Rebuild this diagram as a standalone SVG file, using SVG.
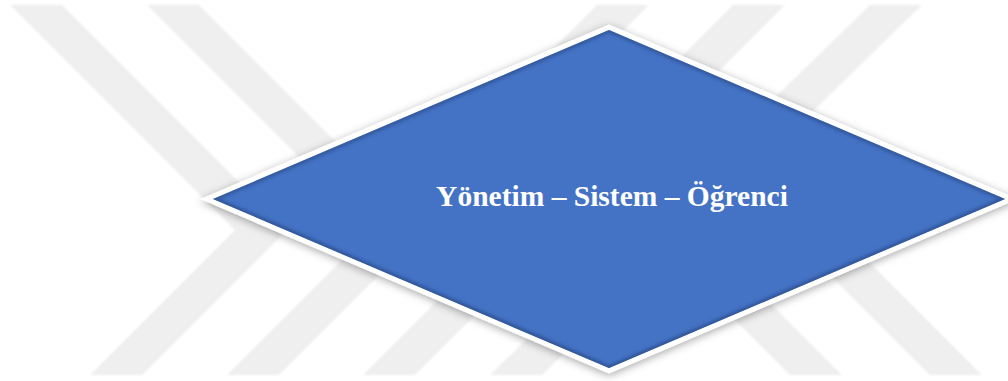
<svg xmlns="http://www.w3.org/2000/svg" width="1008" height="381" viewBox="0 0 1008 381">
  <style>
    .band { fill: #efefef; }
    .label { font-family: "Liberation Serif", "Times New Roman", serif; font-weight: bold; font-size: 29.5px; fill: #ffffff; }
  </style>
  <defs>
    <filter id="soft" x="-5%" y="-5%" width="110%" height="110%">
      <feGaussianBlur stdDeviation="0.8"/>
    </filter>
    <filter id="shadow" x="-10%" y="-20%" width="120%" height="140%">
      <feDropShadow dx="0" dy="2" stdDeviation="4" flood-color="#000000" flood-opacity="0.35"/>
    </filter>
    <filter id="bevelBlur" x="-5%" y="-5%" width="110%" height="110%">
      <feGaussianBlur stdDeviation="1.6"/>
    </filter>
    <clipPath id="diamondClip">
      <polygon points="213,199 609,30 1005,199 609,368"/>
    </clipPath>
  </defs>
  <rect width="1008" height="381" fill="#ffffff"/>
  <g id="watermark" filter="url(#soft)">
    <polygon class="band" points="10,5 62,5 287,230 142,375 90,375 235,230"/>
    <polygon class="band" points="147,5 199,5 424,230 372,230"/>
    <polygon class="band" points="227,375 279,375 649,5 597,5"/>
    <polygon class="band" points="363,375 415,375 785,5 733,5"/>
    <polygon class="band" points="490,375 542,375 922,5 870,5"/>
    <polygon class="band" points="790,375 842,375 712,245 660,245"/>
    <polygon class="band" points="930,375 982,375 847,240 795,240"/>
  </g>
  <g id="node-decision">
    <polygon points="213,199 609,30 1005,199 609,368" fill="#ffffff" stroke="#ffffff" stroke-width="10" stroke-linejoin="miter" filter="url(#shadow)"/>
    <polygon points="213,199 609,30 1005,199 609,368" fill="#4472c4"/>
    <g clip-path="url(#diamondClip)">
      <polygon points="213,199 609,30 1005,199 609,368" fill="none" stroke="#2c5192" stroke-width="6" stroke-opacity="0.7" filter="url(#bevelBlur)"/>
      <polyline points="209,201 609,371 1009,201" fill="none" stroke="#24467f" stroke-width="6" stroke-opacity="0.55" filter="url(#bevelBlur)"/>
    </g>
    <text class="label" x="612" y="206" text-anchor="middle">Yönetim – Sistem – Öğrenci</text>
  </g>
</svg>
